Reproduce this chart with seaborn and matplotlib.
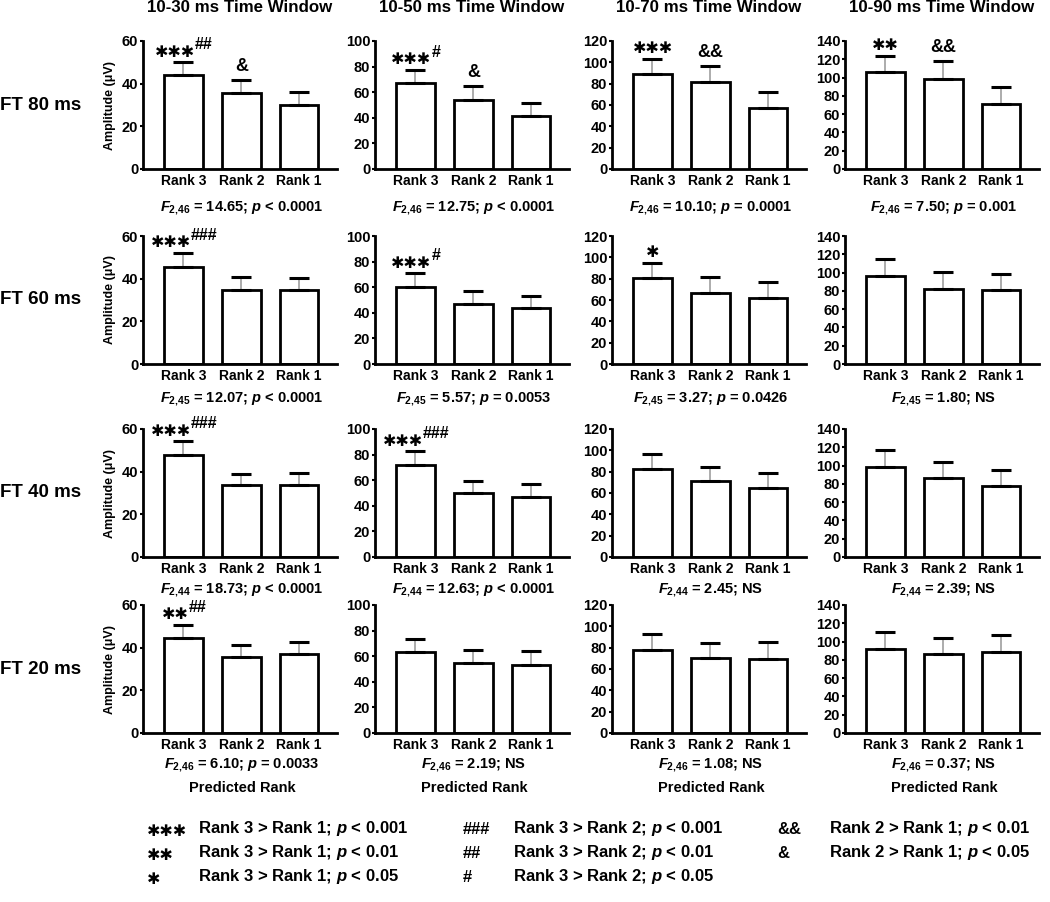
import numpy as np
import pandas as pd
import matplotlib
matplotlib.use('Agg')
import matplotlib.pyplot as plt
import seaborn as sns

# ---- data ----
windows = ['10-30 ms Time Window', '10-50 ms Time Window',
           '10-70 ms Time Window', '10-90 ms Time Window']
fts = ['FT 80 ms', 'FT 60 ms', 'FT 40 ms', 'FT 20 ms']
ranks = ['Rank 3', 'Rank 2', 'Rank 1']
ymax = [60, 100, 120, 140]

# mean amplitude per window, for each feedback time
mean_ft80 = [[44.0, 35.8, 30.2], [67.0, 54.0, 41.2], [89.5, 81.5, 57.5], [106.0, 98.3, 71.5]]
mean_ft60 = [[45.5, 34.8, 34.6], [60.0, 46.5, 43.6], [80.2, 66.8, 62.0], [96.0, 82.4, 80.6]]
mean_ft40 = [[48.0, 33.6, 33.6], [71.8, 50.0, 47.2], [82.3, 71.4, 64.5], [98.2, 86.2, 77.5]]
mean_ft20 = [[44.7, 35.8, 36.9], [63.0, 55.0, 53.5], [78.2, 69.9, 69.6], [92.4, 86.6, 88.4]]

# standard error (upper bar only)
sem_ft80 = [[6.0, 5.8, 5.8], [10.5, 10.5, 10.3], [13.7, 15.0, 14.5], [17.8, 19.7, 18.2]]
sem_ft60 = [[6.6, 6.0, 5.7], [10.8, 10.3, 9.9], [14.8, 14.8, 14.5], [18.6, 18.4, 18.1]]
sem_ft40 = [[6.3, 5.1, 5.9], [10.7, 9.5, 9.9], [14.1, 12.9, 13.8], [18.3, 17.2, 17.5]]
sem_ft20 = [[6.0, 5.6, 5.9], [10.4, 10.2, 10.9], [14.3, 14.2, 15.4], [18.0, 17.0, 18.8]]

stats_ft80 = ['$F_{2{,}46}$ = 14.65; $p$ < 0.0001', '$F_{2{,}46}$ = 12.75; $p$ < 0.0001',
              '$F_{2{,}46}$ = 10.10; $p$ = 0.0001', '$F_{2{,}46}$ = 7.50; $p$ = 0.001']
stats_ft60 = ['$F_{2{,}45}$ = 12.07; $p$ < 0.0001', '$F_{2{,}45}$ = 5.57; $p$ = 0.0053',
              '$F_{2{,}45}$ = 3.27; $p$ = 0.0426', '$F_{2{,}45}$ = 1.80; NS']
stats_ft40 = ['$F_{2{,}44}$ = 18.73; $p$ < 0.0001', '$F_{2{,}44}$ = 12.63; $p$ < 0.0001',
              '$F_{2{,}44}$ = 2.45; NS', '$F_{2{,}44}$ = 2.39; NS']
stats_ft20 = ['$F_{2{,}46}$ = 6.10; $p$ = 0.0033', '$F_{2{,}46}$ = 2.19; NS',
              '$F_{2{,}46}$ = 1.08; NS', '$F_{2{,}46}$ = 0.37; NS']

# significance marks: Rank 3 vs Rank 1 (stars), Rank 3 vs Rank 2 (#), Rank 2 vs Rank 1 (&)
stars_ft80 = ['***', '***', '***', '**']
hash_ft80 = ['##', '#', '', '']
amp_ft80 = ['&', '&', '&&', '&&']
stars_ft60 = ['***', '***', '*', '']
hash_ft60 = ['###', '#', '', '']
amp_ft60 = ['', '', '', '']
stars_ft40 = ['***', '***', '', '']
hash_ft40 = ['###', '###', '', '']
amp_ft40 = ['', '', '', '']
stars_ft20 = ['**', '', '', '']
hash_ft20 = ['##', '', '', '']
amp_ft20 = ['', '', '', '']

legend_col1 = [('***', 'Rank 3 > Rank 1; $p$ < 0.001'), ('**', 'Rank 3 > Rank 1; $p$ < 0.01'),
               ('*', 'Rank 3 > Rank 1; $p$ < 0.05')]
legend_col2 = [('###', 'Rank 3 > Rank 2; $p$ < 0.001'), ('##', 'Rank 3 > Rank 2; $p$ < 0.01'),
               ('#', 'Rank 3 > Rank 2; $p$ < 0.05')]
legend_col3 = [('&&', 'Rank 2 > Rank 1; $p$ < 0.01'), ('&', 'Rank 2 > Rank 1; $p$ < 0.05')]

means = [mean_ft80, mean_ft60, mean_ft40, mean_ft20]
sems = [sem_ft80, sem_ft60, sem_ft40, sem_ft20]
stats = [stats_ft80, stats_ft60, stats_ft40, stats_ft20]
stars = [stars_ft80, stars_ft60, stars_ft40, stars_ft20]
hashes = [hash_ft80, hash_ft60, hash_ft40, hash_ft20]
amps = [amp_ft80, amp_ft60, amp_ft40, amp_ft20]

rows = []
for i, ft in enumerate(fts):
    for j, win in enumerate(windows):
        for k, rk in enumerate(ranks):
            rows.append([ft, win, rk, means[i][j][k], sems[i][j][k]])
df = pd.DataFrame(rows, columns=['FT', 'Window', 'Rank', 'Amplitude', 'SEM'])

# ---- style ----
sns.set_theme(style='ticks')
plt.rcParams['font.family'] = ['Liberation Sans', 'DejaVu Sans']
plt.rcParams['font.weight'] = 'bold'
plt.rcParams['text.color'] = 'black'
plt.rcParams['axes.labelcolor'] = 'black'
plt.rcParams['mathtext.fontset'] = 'custom'
plt.rcParams['mathtext.rm'] = 'Liberation Sans:bold'
plt.rcParams['mathtext.it'] = 'Liberation Sans:italic:bold'
plt.rcParams['mathtext.bf'] = 'Liberation Sans:bold'

W, H = 1050, 902
fig = plt.figure(figsize=(10.5, 9.02), dpi=100)

col_left = [143, 375, 612, 845]
col_w = 194
row_top = [41, 236, 429, 605]
row_h = 128
stat_y = [208, 399, 590, 765]

STAR = '\u2731'          # heavy asterisk, closer to the chunky stars of the original
STAR_FS, SUP_FS, AMP_FS = 11.5, 11.5, 13
STAR_ADV = 0.82


def mark(ax, x, top, n_star, sup):
    star_w = n_star * STAR_ADV * STAR_FS
    sup_w = len(sup) * 0.556 * SUP_FS
    left = -(star_w + sup_w) / 2
    ax.annotate(STAR * n_star, xy=(x, top), xytext=(left, 4), textcoords='offset points',
                ha='left', va='baseline', fontsize=STAR_FS, fontweight='bold',
                family='DejaVu Sans')
    if sup:
        ax.annotate(sup, xy=(x, top), xytext=(left + star_w + 0.5, 9.5), textcoords='offset points',
                    ha='left', va='baseline', fontsize=SUP_FS, fontweight='bold')


for i, ft in enumerate(fts):
    for j, win in enumerate(windows):
        ax = fig.add_axes([col_left[j] / W, 1 - (row_top[i] + row_h) / H, col_w / W, row_h / H])
        sub = df[(df['FT'] == ft) & (df['Window'] == win)]
        sns.barplot(data=sub, x='Rank', y='Amplitude', order=ranks, ax=ax,
                    color='white', edgecolor='black', linewidth=2, width=0.67,
                    saturation=1, errorbar=None)
        eb = ax.errorbar(np.arange(3), sub['Amplitude'].values,
                         yerr=[np.zeros(3), sub['SEM'].values], fmt='none',
                         ecolor='#a6a6a6', elinewidth=1.3, capsize=7.5, capthick=2.2, zorder=3)
        for cl in eb[1]:
            cl.set_markeredgecolor('black')
            cl.set_markerfacecolor('black')
        ax.set_xlim(-0.70, 2.655)
        ax.set_ylim(0, ymax[j])
        ax.set_yticks(np.arange(0, ymax[j] + 1, 20))
        ax.set_xlabel('')
        sns.despine(ax=ax)
        for s in ['left', 'bottom']:
            ax.spines[s].set_linewidth(2)
            ax.spines[s].set_color('black')
        ax.tick_params(axis='x', length=0, pad=3.5, labelsize=10, colors='black')
        ax.tick_params(axis='y', length=2.5, width=1.5, pad=1, labelsize=10.5, colors='black')
        for lab in ax.get_xticklabels() + ax.get_yticklabels():
            lab.set_fontweight('bold')
        if j == 0:
            ax.set_ylabel('Amplitude (\u03bcV)', fontsize=9, fontweight='bold', color='black')
            ax.yaxis.set_label_coords(-0.14, 0.5)
        else:
            ax.set_ylabel('')

        vals = sub['Amplitude'].values + sub['SEM'].values
        if stars[i][j]:
            mark(ax, 0, vals[0], len(stars[i][j]), hashes[i][j])
        if amps[i][j]:
            ax.annotate(amps[i][j], xy=(1, vals[1]), xytext=(0, 6.5), textcoords='offset points',
                        ha='center', va='baseline', fontsize=AMP_FS, fontweight='bold')

        cx = (col_left[j] + col_w / 2 + 2) / W
        fig.text(cx, 1 - stat_y[i] / H, stats[i][j], ha='center', va='center',
                 fontsize=10.5, fontweight='bold')
        if i == 0:
            fig.text((col_left[j] + col_w / 2) / W, 1 - 8 / H, win, ha='center', va='center',
                     fontsize=12.2, fontweight='bold')
        if i == len(fts) - 1:
            fig.text((col_left[j] + col_w / 2 + 2) / W, 1 - 788 / H, 'Predicted Rank',
                     ha='center', va='center', fontsize=10.5, fontweight='bold')
    fig.text(0.0, 1 - (row_top[i] + row_h / 2) / H, ft, ha='left', va='center',
             fontsize=13.5, fontweight='bold')

# ---- key ----
leg_rows = [829, 853, 877]
for (sym_x, txt_x, entries, is_star) in [(147, 198, legend_col1, True),
                                         (463, 513, legend_col2, False),
                                         (777, 829, legend_col3, False)]:
    for r, (sym, txt) in enumerate(entries):
        y = 1 - leg_rows[r] / H
        if is_star:
            fig.text(sym_x / W, 1 - (leg_rows[r] + 3) / H, STAR * len(sym), ha='left', va='center',
                     fontsize=STAR_FS, fontweight='bold', family='DejaVu Sans')
        else:
            fig.text(sym_x / W, y, sym, ha='left', va='center', fontsize=12, fontweight='bold')
        fig.text(txt_x / W, y, txt, ha='left', va='center', fontsize=12, fontweight='bold')

fig.savefig('out.png', dpi=100, facecolor='white')
